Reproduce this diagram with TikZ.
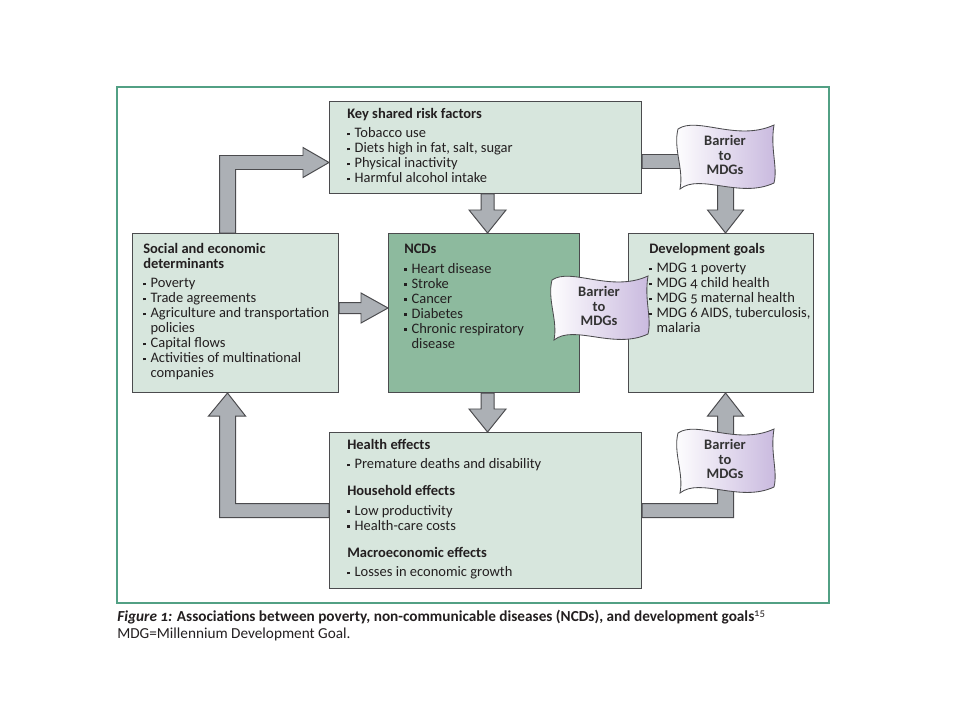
\documentclass[tikz,border=0pt]{standalone}
\usepackage{fontspec}
\setmainfont{Carlito}[Numbers=OldStyle]
\usetikzlibrary{positioning, calc, backgrounds}

\definecolor{boxgreen}{RGB}{215,230,221}
\definecolor{ncdgreen}{RGB}{141,186,158}
\definecolor{framegreen}{RGB}{82,160,132}
\definecolor{arrowgray}{RGB}{172,176,181}
\definecolor{edgegray}{RGB}{75,75,78}
\definecolor{bannerlav}{RGB}{200,184,222}
\definecolor{inkgray}{RGB}{35,31,32}

\newcommand{\bul}{\makebox[5.2pt][l]{\rule[1.8pt]{1.8pt}{1.8pt}}}
\newcommand{\ind}{\hspace*{5.2pt}}

\begin{document}
\begin{tikzpicture}[
  x=0.025cm, y=-0.025cm,
  font=\fontsize{10.3}{10.67}\selectfont,
  text=inkgray,
  % boxes
  greenbox/.style={draw=edgegray, line width=0.7pt, fill=boxgreen, rectangle, anchor=north west, inner sep=0pt},
  ncdbox/.style={greenbox, fill=ncdgreen},
  boxtext/.style={anchor=north west, align=left, inner sep=0pt},
  % block arrows
  blockarrow/.style={draw=edgegray, line width=0.7pt, fill=arrowgray, line join=miter},
  % barrier flags
  bannertext/.style={align=center, font=\fontsize{10.3}{10.3}\selectfont\bfseries, text=black!80, inner sep=0pt},
  banner/.pic={
    \draw[draw=edgegray, line width=0.6pt, left color=white, right color=bannerlav]
      (-47,-28) .. controls (-28,-41) and (12,-15) .. (49,-32)
      .. controls (45,-8) and (53,10) .. (49,26)
      .. controls (15,42) and (-25,16) .. (-45,32)
      .. controls (-41,12) and (-52,-8) .. (-47,-28) -- cycle;
  }
]
  \useasboundingbox (0,0) rectangle (960,720);

  % outer frame
  \draw[framegreen, line width=1.1pt] (117,87) rectangle (829,603);

  % ---- boxes ----
  \node[greenbox, minimum width=7.8cm, minimum height=2.3cm] (risk) at (329,101) {};
  \node[greenbox, minimum width=5.15cm, minimum height=3.975cm] (social) at (132,233) {};
  \node[ncdbox, minimum width=4.775cm, minimum height=3.975cm] (ncd) at (388,233) {};
  \node[greenbox, minimum width=4.625cm, minimum height=3.975cm] (dev) at (628,233) {};
  \node[greenbox, minimum width=7.8cm, minimum height=3.9cm] (effects) at (329,432) {};

  % ---- box texts ----
  \node[boxtext] (risktxt) at ($(risk.north west)+(18,7)$) {%
    \textbf{Key shared risk factors}\\[3.2pt]
    \bul Tobacco use\\
    \bul Diets high in fat, salt, sugar\\
    \bul Physical inactivity\\
    \bul Harmful alcohol intake};
  \node[boxtext] (socialtxt) at ($(social.north west)+(11,10)$) {%
    \textbf{Social and economic}\\
    \textbf{determinants}\\[3.2pt]
    \bul Poverty\\
    \bul Trade agreements\\
    \bul Agriculture and transportation\\
    \ind policies\\
    \bul Capital flows\\
    \bul Activities of multinational\\
    \ind companies};
  \node[boxtext] (ncdtxt) at ($(ncd.north west)+(16,11)$) {%
    \textbf{NCDs}\\[3.2pt]
    \bul Heart disease\\
    \bul Stroke\\
    \bul Cancer\\
    \bul Diabetes\\
    \bul Chronic respiratory\\
    \ind disease};
  \node[boxtext] (devtxt) at ($(dev.north west)+(21,10)$) {%
    \textbf{Development goals}\\[3.2pt]
    \bul MDG 1 poverty\\
    \bul MDG 4 child health\\
    \bul MDG 5 maternal health\\
    \bul MDG 6 AIDS, tuberculosis,\\
    \ind malaria};
  \node[boxtext] (effectstxt) at ($(effects.north west)+(18,7)$) {%
    \textbf{Health effects}\\[3.2pt]
    \bul Premature deaths and disability\\[8.5pt]
    \textbf{Household effects}\\[3.2pt]
    \bul Low productivity\\
    \bul Health-care costs\\[8.5pt]
    \textbf{Macroeconomic effects}\\[3.2pt]
    \bul Losses in economic growth};

  % ---- block arrows ----
  \begin{scope}[on background layer]
    % determinants -> risk factors
    \coordinate (s1) at ($(social.north)+(-8,0)$);
    \coordinate (t1) at ($(risk.west)+(0,15)$);
    \draw[blockarrow] ($(s1)+(-8,0)$) |- ($(t1)+(-26,-7)$) -- ++(0,-8) -- (t1)
      -- ++(-26,15) -- ++(0,-8) -| ($(s1)+(8,0)$) -- cycle;
    % determinants -> NCDs
    \coordinate (s2) at ($(social.east)+(0,-5)$);
    \coordinate (t2) at ($(ncd.west)+(0,-5)$);
    \draw[blockarrow] ($(s2)+(0,-5.5)$) -- ($(t2)+(-27,-5.5)$) -- ++(0,-9.5) -- (t2)
      -- ++(-27,15) -- ++(0,-9.5) -- ($(s2)+(0,5.5)$) -- cycle;
    % risk factors -> NCDs
    \coordinate (s3) at ($(risk.south)+(2,0)$);
    \coordinate (t3) at (s3 |- ncd.north);
    \draw[blockarrow] ($(s3)+(-6.5,0)$) -- ($(t3)+(-6.5,-23)$) -- ++(-12,0) -- (t3)
      -- ++(18.5,-23) -- ++(-12,0) -- ($(s3)+(6.5,0)$) -- cycle;
    % NCDs -> effects
    \coordinate (s4) at ($(ncd.south)+(3.5,0)$);
    \coordinate (t4) at (s4 |- effects.north);
    \draw[blockarrow] ($(s4)+(-6.5,0)$) -- ($(t4)+(-6.5,-23)$) -- ++(-12,0) -- (t4)
      -- ++(18.5,-23) -- ++(-12,0) -- ($(s4)+(6.5,0)$) -- cycle;
    % risk factors -> development goals
    \coordinate (s5) at ($(risk.east)+(0,14)$);
    \coordinate (t5) at ($(dev.north)+(4.5,0)$);
    \draw[blockarrow] ($(s5)+(0,-7)$) -| ($(t5)+(8,-23)$) -- ++(10,0) -- (t5)
      -- ++(-18,-23) -- ++(10,0) |- ($(s5)+(0,7)$) -- cycle;
    % effects -> development goals
    \coordinate (s6) at (effects.east);
    \coordinate (t6) at ($(dev.south)+(4.5,0)$);
    \draw[blockarrow] ($(s6)+(0,7)$) -| ($(t6)+(8,23)$) -- ++(10,0) -- (t6)
      -- ++(-18,23) -- ++(10,0) |- ($(s6)+(0,-7)$) -- cycle;
    % effects -> determinants
    \coordinate (s7) at (effects.west);
    \coordinate (t7) at ($(social.south)+(-8,0)$);
    \draw[blockarrow] ($(s7)+(0,7)$) -| ($(t7)+(-8,23)$) -- ++(-11,0) -- (t7)
      -- ++(18,23) -- ++(-10,0) |- ($(s7)+(0,-7)$) -- cycle;
  \end{scope}

  % ---- barrier flags ----
  \pic (flag1) at (725,157) {banner};
  \node[bannertext] (barrier1) at (725,155) {Barrier\\to\\MDGs};
  \pic (flag2) at (599,308) {banner};
  \node[bannertext] (barrier2) at (599,306) {Barrier\\to\\MDGs};
  \pic (flag3) at (725,461) {banner};
  \node[bannertext] (barrier3) at (725,459) {Barrier\\to\\MDGs};

  % ---- caption ----
  \node[anchor=north west, align=left, inner sep=0pt, font=\fontsize{10.85}{11.7}\selectfont] (caption) at (117,610)
    {\textbf{\textit{Figure 1:}} \textbf{Associations between poverty, non-communicable diseases (NCDs), and development goals}\textsuperscript{15}\\
     MDG=Millennium Development Goal.};
\end{tikzpicture}
\end{document}
